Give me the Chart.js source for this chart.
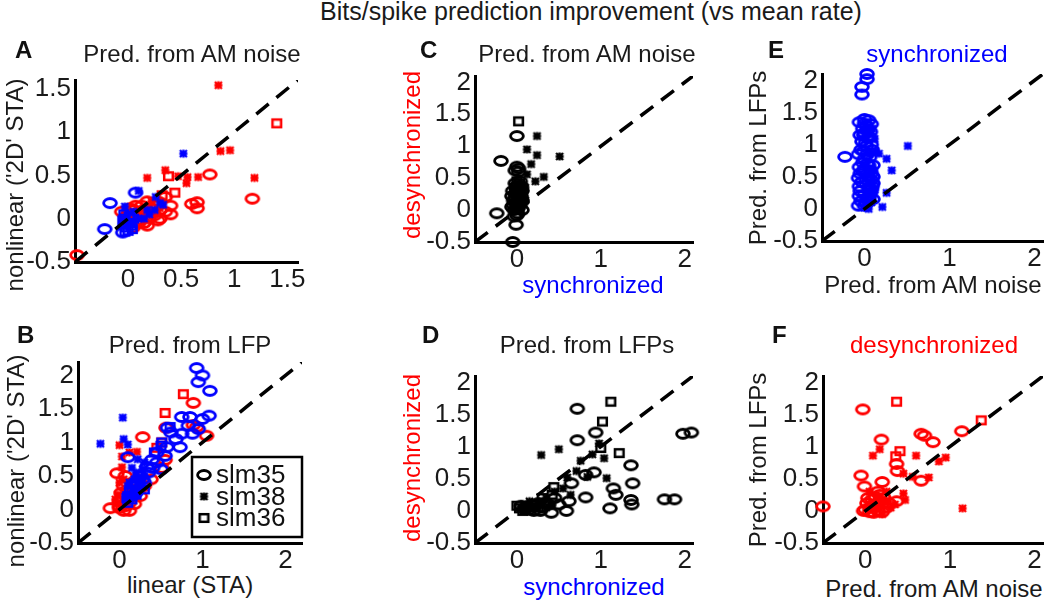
<!DOCTYPE html>
<html>
<head>
<meta charset="utf-8">
<script src="https://cdn.jsdelivr.net/npm/chart.js@4.4.1/dist/chart.umd.min.js"></script>
<style>
body { margin: 0; background: #fff; width: 1050px; height: 603px; position: relative; overflow: hidden; font-family: "Liberation Sans", Arial, sans-serif; }
canvas { position: absolute; }
.t { position: absolute; white-space: nowrap; font-size: 24px; line-height: 28px; color: #1a1a1a; transform: translateX(-50%); z-index: 2; }
.yt { position: absolute; white-space: nowrap; font-size: 24px; line-height: 28px; color: #1a1a1a; transform: translate(-50%, -50%) rotate(-90deg); z-index: 2; }
.lt { position: absolute; white-space: nowrap; font-size: 24px; line-height: 28px; font-weight: bold; color: #111; z-index: 2; }
</style>
</head>
<body>
<div class="t" style="left:591px;top:-3px;font-size:25px">Bits/spike prediction improvement (vs mean rate)</div>
<div class="lt" style="left:15px;top:36px">A</div>
<div class="t" style="left:192px;top:40px">Pred. from AM noise</div>
<div class="yt" style="left:15px;top:185px">nonlinear ('2D' STA)</div>
<div class="lt" style="left:17px;top:321px">B</div>
<div class="t" style="left:190px;top:331px">Pred. from LFP</div>
<div class="yt" style="left:16px;top:461px">nonlinear ('2D' STA)</div>
<div class="t" style="left:190px;top:571px">linear (STA)</div>
<div class="lt" style="left:420px;top:36px">C</div>
<div class="t" style="left:587px;top:40px">Pred. from AM noise</div>
<div class="yt" style="left:412px;top:155px;color:#ff0000">desynchronized</div>
<div class="t" style="left:593px;top:271px;color:#0000ff">synchronized</div>
<div class="lt" style="left:422px;top:321px">D</div>
<div class="t" style="left:587px;top:331px">Pred. from LFPs</div>
<div class="yt" style="left:412px;top:458px;color:#ff0000">desynchronized</div>
<div class="t" style="left:594px;top:573px;color:#0000ff">synchronized</div>
<div class="lt" style="left:768px;top:36px">E</div>
<div class="t" style="left:937px;top:40px;color:#0000ff">synchronized</div>
<div class="yt" style="left:758px;top:158px">Pred. from LFPs</div>
<div class="t" style="left:933px;top:271px">Pred. from AM noise</div>
<div class="lt" style="left:772px;top:321px">F</div>
<div class="t" style="left:934px;top:331px;color:#ff0000">desynchronized</div>
<div class="yt" style="left:758px;top:460px">Pred. from LFPs</div>
<div class="t" style="left:934px;top:575px">Pred. from AM noise</div>

<script>
// tick labels
var ticksAx = [0, 0.5, 1, 1.5];
var ticksAy = [-0.5, 0, 0.5, 1, 1.5];
var ticksX = [0, 1, 2];
var ticksY = [-0.5, 0, 0.5, 1, 1.5, 2];
var legendLabels = ['slm35', 'slm38', 'slm36'];

// A: linear (STA) vs nonlinear, prediction from AM noise
var aRedCircle = [[-0.48, -0.42], [0.77, 0.51], [1.17, 0.23], [0.65, 0.19], [0.65, 0.12], [0.35, 0.25], [0.35, 0.08],
  [0.6, 0.17], [0.12, 0.05], [0.2, 0.0], [0.25, 0.04], [0.05, 0.1], [0.0, 0.06], [-0.02, 0.02], [0.1, -0.05],
  [0.18, -0.08], [0.3, 0.1], [0.15, 0.1], [0.28, 0.2], [0.05, -0.1], [0.22, 0.12], [0.08, -0.02], [0.4, 0.15],
  [0.02, 0.12], [0.28, -0.02], [-0.06, 0.08], [0.11, -0.02], [0.1, 0.08], [0.15, -0.05], [0.2, 0.08],
  [0.25, 0.15], [0.3, 0.0], [0.05, 0.02], [0.0, -0.02], [0.13, 0.15], [0.18, 0.2], [0.4, 0.05], [0.07, 0.15]];
var aRedStar = [[0.85, 1.54], [0.87, 0.78], [0.96, 0.79], [1.19, 0.47], [0.66, 0.48], [0.56, 0.48], [0.55, 0.41],
  [0.35, 0.56], [0.18, 0.47], [0.47, 0.49], [0.1, 0.1], [0.2, 0.15], [0.25, 0.05], [0.05, 0.0], [0.15, 0.12],
  [0.3, 0.12], [0.22, 0.2], [0.12, 0.0]];
var aRedSquare = [[1.4, 1.1], [0.38, 0.49], [0.44, 0.3], [0.32, 0.27], [0.0, 0.05]];
var aBlueCircle = [[0.07, 0.3], [-0.17, 0.18], [-0.22, -0.12], [-0.05, -0.16]];
var aBlueStar = [[0.52, 0.75], [0.26, 0.25], [0.33, 0.16], [-0.03, 0.14], [0.2, 0.05], [0.15, 0.0], [0.1, 0.32],
  [0.25, 0.1], [0.1, 0.0], [0.3, 0.18], [0.0, -0.05], [0.05, 0.08], [0.18, 0.1]];
var aBlueSquare = [[-0.03, 0.0], [0.0, -0.05], [-0.02, -0.1], [0.02, 0.03], [0.0, -0.14], [-0.04, 0.05],
  [0.03, -0.08], [0.01, 0.02], [-0.05, -0.02], [0.04, -0.12], [-0.03, -0.15], [0.05, 0.0], [0.02, -0.05],
  [-0.04, -0.06]];

// B: linear (STA) vs nonlinear, prediction from LFP
var bRedCircle = [[0.89, 1.59], [0.28, 1.08], [0.56, 1.22], [0.55, 0.74], [1.05, 1.1], [0.89, 1.26], [-0.03, 0.54],
  [0.07, 0.5], [-0.11, 0.02], [0.0, 0.02], [0.05, 0.08], [0.1, 0.15], [0.2, 0.3], [0.51, 0.62], [0.38, 0.45],
  [0.93, 1.23], [0.05, 0.35], [0.12, -0.02], [0.0, 0.12], [0.08, 0.05], [0.02, 0.25], [0.1, 0.3], [0.15, 0.4],
  [0.0, 0.05], [0.18, 0.08], [0.25, 0.2], [0.12, 0.1], [0.08, 0.2], [0.3, 0.35], [0.05, -0.02]];
var bRedStar = [[0.0, 0.96], [0.21, 0.86], [0.03, 0.79], [0.03, 0.63], [-0.02, 0.22], [0.12, 0.85], [0.2, 0.5],
  [0.05, 0.45], [0.15, 0.3], [-0.05, 0.15], [0.1, 0.15], [0.2, 0.2], [0.0, 0.4], [0.25, 0.35]];
var bRedSquare = [[0.77, 1.72], [0.55, 1.44], [0.45, 0.92], [0.51, 1.0], [0.21, 0.29]];
var bBlueCircle = [[0.93, 2.11], [1.0, 2.0], [0.95, 1.9], [1.09, 1.77], [1.08, 1.4], [0.75, 1.38], [0.95, 1.2],
  [0.83, 1.25], [0.75, 1.13], [0.73, 0.93], [0.88, 1.13], [0.58, 1.22], [0.62, 1.15], [0.57, 0.93], [0.55, 0.8],
  [0.39, 0.74], [0.33, 0.64], [0.1, 0.78], [0.68, 1.05], [0.45, 0.85], [0.25, 0.5], [0.3, 0.4], [0.2, 0.35],
  [1.0, 1.35], [0.85, 1.38], [0.35, 0.55], [0.4, 0.62], [0.45, 0.7], [0.5, 0.6], [0.28, 0.45], [0.2, 0.25],
  [0.15, 0.2]];
var bBlueStar = [[-0.23, 0.98], [0.04, 1.37], [0.05, 1.05], [0.1, 0.97], [0.22, 0.75], [0.15, 0.62], [0.2, 0.55],
  [0.25, 0.45], [0.12, 0.4], [0.18, 0.3], [0.28, 0.6], [0.08, 0.2], [0.3, 0.7], [0.15, 0.2], [0.2, 0.25],
  [0.1, 0.35], [0.22, 0.4], [0.3, 0.5], [0.12, 0.15], [0.18, 0.45], [0.27, 0.35]];
var bBlueSquare = [[0.61, 1.23], [0.51, 1.0], [0.09, 0.17], [0.12, 0.27], [0.19, 0.4], [0.5, 0.95], [0.42, 0.85],
  [0.15, 0.3], [0.25, 0.45], [0.1, 0.1], [0.15, 0.15], [0.2, 0.22], [0.3, 0.3], [0.1, 0.2]];

// C: synchronized vs desynchronized, prediction from AM noise
var cCircle = [[0.0, 1.16], [-0.19, 0.77], [0.0, 0.68], [0.02, 0.65], [-0.24, -0.05], [-0.01, -0.23], [-0.05, -0.5],
  [0.0, 0.3], [0.0, 0.1], [-0.02, 0.2], [-0.03, 0.0], [0.02, 0.05], [-0.02, 0.12], [0.03, 0.18], [-0.01, 0.25],
  [0.02, 0.32], [0.0, 0.38], [-0.04, 0.08], [0.04, 0.1], [0.01, -0.05], [-0.02, 0.42], [0.03, 0.28], [0.0, -0.08],
  [0.05, 0.22], [-0.04, 0.15], [-0.06, 0.05], [0.06, 0.0], [0.05, 0.38], [-0.05, 0.3], [0.06, 0.15],
  [-0.06, 0.22], [0.0, 0.02], [0.02, 0.6], [-0.02, 0.62], [0.04, 0.45], [-0.03, -0.1], [0.06, 0.3]];
var cStar = [[0.24, 1.16], [0.12, 0.95], [0.24, 0.86], [0.51, 0.84], [0.17, 0.72], [0.12, 0.56], [0.22, 0.45],
  [0.32, 0.52], [0.08, 0.3], [0.1, 0.15], [0.05, 0.05], [0.06, 0.2], [0.08, 0.1], [0.04, 0.4], [0.1, 0.35]];
var cSquare = [[0.02, 1.39], [0.0, 0.45], [-0.02, 0.35], [0.0, 0.2], [0.01, 0.05], [0.03, 0.42], [-0.03, 0.28],
  [0.02, 0.12]];

// D: synchronized vs desynchronized, prediction from LFPs
var dCircle = [[0.72, 1.59], [0.94, 1.22], [0.72, 1.1], [1.98, 1.2], [2.08, 1.22], [1.36, 0.71], [0.92, 0.6],
  [0.82, 0.56], [0.65, 0.43], [1.15, 0.35], [1.38, 0.43], [1.18, 0.25], [0.82, 0.21], [1.36, 0.17], [1.37, 0.1],
  [1.11, 0.04], [1.76, 0.18], [1.88, 0.18], [0.62, 0.15], [0.59, 0.0], [0.41, -0.03], [0.5, 0.1], [0.3, 0.05],
  [0.2, 0.0], [0.1, 0.05], [0.45, 0.2], [0.35, 0.12], [0.25, 0.12], [0.15, 0.02], [0.05, 0.08], [0.28, 0.0],
  [0.38, 0.1], [0.22, 0.08]];
var dStar = [[0.29, 0.87], [0.5, 0.96], [0.9, 0.88], [0.98, 1.05], [1.04, 0.82], [0.76, 0.78], [0.71, 0.62],
  [1.07, 0.51], [0.84, 0.53], [0.6, 0.52], [0.64, 0.25], [0.55, 0.35], [0.35, 0.2], [0.15, 0.15], [0.45, 0.3],
  [0.25, 0.1], [0.1, 0.1], [0.05, 0.05], [0.2, 0.05], [0.3, 0.15], [0.4, 0.1], [0.12, 0.0], [0.35, 0.05]];
var dSquare = [[1.12, 1.7], [1.02, 1.39], [1.22, 0.9], [1.0, 0.98], [0.44, 0.37], [0.42, 0.25], [0.03, 0.04],
  [0.0, 0.08], [0.1, 0.02], [0.2, 0.1], [0.3, 0.2], [0.15, 0.05], [0.25, 0.05], [0.35, 0.12], [0.07, 0.0]];

// E: AM noise vs LFPs, synchronized
var eCircle = [[0.03, 2.1], [0.03, 2.02], [-0.03, 1.9], [-0.03, 1.78], [-0.23, 0.81], [0.0, 1.4], [0.05, 1.38],
  [0.02, 1.3], [-0.02, 1.25], [0.0, 1.18], [0.04, 1.1], [-0.03, 1.05], [0.02, 0.98], [-0.04, 0.92], [0.03, 0.85],
  [0.0, 0.78], [-0.02, 0.72], [0.05, 0.68], [0.0, 0.62], [-0.05, 0.55], [0.04, 0.5], [0.08, 0.45], [-0.03, 0.42],
  [0.02, 0.38], [0.06, 0.32], [-0.05, 0.28], [0.0, 0.22], [0.04, 0.16], [-0.04, 0.12], [0.02, 0.08], [0.08, 0.55],
  [0.1, 0.4], [-0.06, 0.35], [0.07, 1.2], [0.08, 1.0], [-0.06, 1.35], [0.08, 1.32], [-0.05, 1.15], [0.06, 1.12],
  [0.09, 0.92], [-0.07, 0.85], [0.06, 0.8], [-0.06, 0.65], [0.07, 0.6], [-0.07, 0.48], [0.09, 0.35],
  [-0.06, 0.2], [0.07, 0.25], [0.1, 0.15], [-0.07, 0.05], [0.0, 0.05], [0.05, 0.12], [0.02, 0.45], [-0.02, 0.58],
  [0.03, 0.7], [-0.01, 0.9], [0.01, 1.02], [-0.01, 1.15], [0.03, 1.22], [0.0, 1.33], [0.1, 0.68], [0.1, 0.5],
  [0.08, 0.3]];
var eStar = [[0.12, 1.09], [0.13, 0.9], [0.17, 0.86], [0.26, 0.78], [0.32, 0.6], [0.51, 0.98], [0.26, 0.25],
  [0.21, 0.03], [0.1, 0.18], [0.08, 0.1], [0.05, 0.0], [0.0, 0.02], [0.05, 0.25], [0.08, 0.4], [0.1, 0.6],
  [0.06, 0.85], [0.09, 1.25], [0.12, 0.3]];

// F: AM noise vs LFPs, desynchronized
var fCircle = [[-0.5, 0.07], [-0.03, 1.58], [1.14, 1.24], [0.66, 1.2], [0.7, 1.17], [0.8, 1.07], [0.19, 1.11],
  [0.37, 0.73], [0.38, 0.62], [0.66, 0.47], [-0.05, 0.55], [-0.01, 0.38], [0.2, 0.45], [0.37, 0.15], [0.17, 0.25],
  [0.0, 0.02], [0.05, 0.05], [0.1, 0.1], [0.15, 0.0], [0.08, 0.18], [0.02, 0.12], [0.12, 0.22], [0.2, 0.12],
  [0.25, 0.05], [-0.02, 0.0], [0.05, -0.02], [0.12, 0.05], [0.18, 0.15], [0.08, 0.08], [0.22, 0.2], [0.03, 0.2],
  [0.15, 0.3], [0.28, 0.12], [0.1, -0.03], [0.2, -0.02]];
var fStar = [[0.17, 0.96], [0.09, 0.86], [0.6, 0.86], [0.95, 0.83], [0.87, 0.77], [0.45, 0.58], [0.56, 0.53],
  [0.75, 0.52], [1.15, 0.04], [0.45, 0.27], [0.47, 0.17], [0.25, 0.3], [0.3, 0.05], [0.2, -0.05], [0.05, 0.3],
  [0.1, 0.05], [0.15, 0.15], [0.25, 0.15], [0.35, 0.1]];
var fSquare = [[0.37, 1.7], [1.37, 1.41], [0.41, 0.93], [0.36, 0.85], [0.1, 0.2], [0.15, 0.1]];

var RED = '#ff0000', BLUE = '#0000ff', BLACK = '#000000';
var FONT = '"Liberation Sans", Arial, sans-serif';

function makeMarker(kind, color) {
    var c = document.createElement('canvas');
    var ctx;
    if (kind === 'o') {
        c.width = 18; c.height = 14;
        ctx = c.getContext('2d');
        ctx.strokeStyle = color;
        ctx.lineWidth = 2.8;
        ctx.beginPath();
        ctx.ellipse(9, 7, 6.4, 4.5, 0, 0, 2 * Math.PI);
        ctx.stroke();
    } else if (kind === '*') {
        c.width = 11; c.height = 11;
        ctx = c.getContext('2d');
        ctx.strokeStyle = color;
        ctx.lineWidth = 2.3;
        ctx.beginPath();
        ctx.moveTo(2, 2); ctx.lineTo(9, 9);
        ctx.moveTo(9, 2); ctx.lineTo(2, 9);
        ctx.moveTo(5.5, 1.5); ctx.lineTo(5.5, 9.5);
        ctx.moveTo(1.5, 5.5); ctx.lineTo(9.5, 5.5);
        ctx.stroke();
    } else {
        c.width = 13; c.height = 12;
        ctx = c.getContext('2d');
        ctx.strokeStyle = color;
        ctx.lineWidth = 2.5;
        ctx.strokeRect(2.2, 2.2, 8.6, 7.6);
    }
    return c;
}

function toXY(pairs) {
    return pairs.map(function (p) { return {x: p[0], y: p[1]}; });
}

var legendPlugin = {
    id: 'markerLegend',
    afterDatasetsDraw: function (chart) {
        var ctx = chart.ctx, a = chart.chartArea;
        var w = 110, h = 80;
        var x0 = a.right - w, y0 = a.bottom - 86;
        var kinds = ['o', '*', 's'];
        ctx.save();
        ctx.fillStyle = '#fff';
        ctx.fillRect(x0, y0, w, h);
        ctx.lineWidth = 2.5;
        ctx.strokeStyle = '#000';
        ctx.strokeRect(x0, y0, w, h);
        ctx.font = '26px ' + FONT;
        ctx.textBaseline = 'middle';
        ctx.fillStyle = '#111';
        legendLabels.forEach(function (lab, i) {
            var cy = y0 + 18 + i * 21.5;
            var m = makeMarker(kinds[i], BLACK);
            ctx.drawImage(m, x0 + 12 - m.width / 2, cy - m.height / 2);
            ctx.fillText(lab, x0 + 24, cy + 1);
        });
        ctx.restore();
    }
};

function makePanel(p) {
    var cv = document.createElement('canvas');
    cv.width = p.box.r - p.box.l;
    cv.height = p.box.b - p.box.t;
    cv.style.left = p.box.l + 'px';
    cv.style.top = p.box.t + 'px';
    document.body.appendChild(cv);

    var lo = p.lim[0], hi = p.lim[1];
    var datasets = [{
        data: [{x: lo, y: lo}, {x: hi, y: hi}],
        showLine: true,
        borderColor: '#000',
        borderWidth: 3.5,
        borderDash: [16, 10],
        pointRadius: 0,
        order: 0
    }];
    p.groups.forEach(function (g) {
        datasets.push({
            data: toXY(g.pts),
            pointStyle: makeMarker(g.kind, g.color),
            pointRadius: 6,
            clip: false,
            order: g.color === BLUE ? 1 : 2
        });
    });

    var tickFont = {size: 26, family: FONT};
    new Chart(cv.getContext('2d'), {
        type: 'scatter',
        data: {datasets: datasets},
        plugins: p.legend ? [legendPlugin] : [],
        options: {
            responsive: false,
            animation: false,
            devicePixelRatio: 1,
            layout: {padding: {top: p.plot.t - p.box.t, right: p.box.r - p.plot.r, left: 0, bottom: 0}},
            plugins: {legend: {display: false}, tooltip: {enabled: false}},
            scales: {
                x: {
                    type: 'linear', min: lo, max: hi,
                    afterBuildTicks: function (s) { s.ticks = p.xt.map(function (v) { return {value: v}; }); },
                    afterFit: function (s) { s.height = p.box.b - p.plot.b; },
                    grid: {display: false, drawTicks: false},
                    border: {display: true, width: 3, color: '#000'},
                    ticks: {padding: 2, color: '#1a1a1a', font: tickFont, autoSkip: false, maxRotation: 0,
                        callback: function (v) { return String(v); }}
                },
                y: {
                    type: 'linear', min: lo, max: hi,
                    afterBuildTicks: function (s) { s.ticks = p.yt.map(function (v) { return {value: v}; }); },
                    afterFit: function (s) { s.width = p.plot.l - p.box.l; },
                    grid: {display: false, drawTicks: false},
                    border: {display: true, width: 3, color: '#000'},
                    ticks: {padding: 4, color: '#1a1a1a', font: tickFont, autoSkip: false,
                        callback: function (v) { return String(v); }}
                }
            }
        }
    });
}

var panels = [
    {box: {l: 0, t: 30, r: 315, b: 300}, plot: {l: 75, t: 80, r: 298, b: 262}, lim: [-0.5, 1.6],
        xt: ticksAx, yt: ticksAy,
        groups: [
            {pts: aRedCircle, kind: 'o', color: RED}, {pts: aRedStar, kind: '*', color: RED},
            {pts: aRedSquare, kind: 's', color: RED}, {pts: aBlueCircle, kind: 'o', color: BLUE},
            {pts: aBlueStar, kind: '*', color: BLUE}, {pts: aBlueSquare, kind: 's', color: BLUE}]},
    {box: {l: 0, t: 320, r: 315, b: 570}, plot: {l: 78, t: 362, r: 302, b: 543}, lim: [-0.5, 2.2],
        xt: ticksX, yt: ticksY, legend: true,
        groups: [
            {pts: bRedCircle, kind: 'o', color: RED}, {pts: bRedStar, kind: '*', color: RED},
            {pts: bRedSquare, kind: 's', color: RED}, {pts: bBlueCircle, kind: 'o', color: BLUE},
            {pts: bBlueStar, kind: '*', color: BLUE}, {pts: bBlueSquare, kind: 's', color: BLUE}]},
    {box: {l: 390, t: 30, r: 700, b: 272}, plot: {l: 475, t: 76, r: 696, b: 242}, lim: [-0.5, 2.1],
        xt: ticksX, yt: ticksY,
        groups: [
            {pts: cCircle, kind: 'o', color: BLACK}, {pts: cStar, kind: '*', color: BLACK},
            {pts: cSquare, kind: 's', color: BLACK}]},
    {box: {l: 390, t: 310, r: 700, b: 573}, plot: {l: 475, t: 376, r: 696, b: 543}, lim: [-0.5, 2.1],
        xt: ticksX, yt: ticksY,
        groups: [
            {pts: dCircle, kind: 'o', color: BLACK}, {pts: dStar, kind: '*', color: BLACK},
            {pts: dSquare, kind: 's', color: BLACK}]},
    {box: {l: 770, t: 30, r: 1050, b: 272}, plot: {l: 822, t: 74, r: 1046, b: 241}, lim: [-0.5, 2.1],
        xt: ticksX, yt: ticksY,
        groups: [
            {pts: eCircle, kind: 'o', color: BLUE}, {pts: eStar, kind: '*', color: BLUE}]},
    {box: {l: 770, t: 310, r: 1050, b: 575}, plot: {l: 823, t: 376, r: 1047, b: 543}, lim: [-0.5, 2.1],
        xt: ticksX, yt: ticksY,
        groups: [
            {pts: fCircle, kind: 'o', color: RED}, {pts: fStar, kind: '*', color: RED},
            {pts: fSquare, kind: 's', color: RED}]}
];

panels.forEach(makePanel);
</script>
</body>
</html>
